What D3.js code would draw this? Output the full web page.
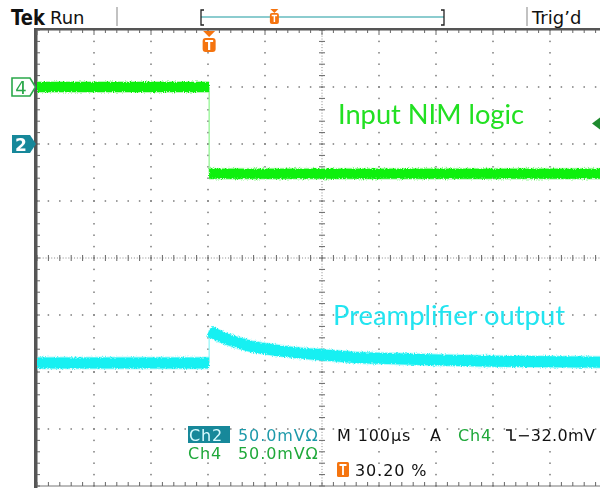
<!DOCTYPE html>
<html>
<head>
<meta charset="utf-8">
<script src="https://cdn.jsdelivr.net/npm/d3@7/dist/d3.min.js"></script>
<style>
  html, body { margin: 0; padding: 0; background: #fff; }
  svg { display: block; }
</style>
</head>
<body>
<svg id="scope" width="600" height="488"></svg>
<script>
// Acquisition settings
const timePerDiv = 100;          // µs / div
const triggerPosPct = 30.20;     // % of record before trigger
const ch2Scale = 50;             // mV / div
const ch4Scale = 50;             // mV / div
const ch2Offset = 2;             // ground marker, divisions above centre
const ch4Offset = 3;
const triggerLevel = -32;        // mV on Ch4, falling edge

// Ch4: NIM logic gate (µs, mV)
const ch4Time = [-302, 0, 0, 698];
const ch4Volt = [0, 0, -76, -76];

// Ch2: preamplifier pulse (µs, mV)
const ch2Time = [-302, 0, 0, 20, 42, 70, 104, 150, 198, 250, 300, 400, 500, 600, 698];
const ch2Volt = [-192, -192, -164, -169, -173, -177, -180, -183, -185, -187, -188, -189.5, -190.5, -191, -191.5];

// Annotations
const labelNIM = "Input NIM logic";
const labelPre = "Preamplifier output";

const svg = d3.select("#scope");

// Graticule: 10 x 8 divisions
const gx = d3.scaleLinear().domain([-5, 5]).range([37, 607]);
const gy = d3.scaleLinear().domain([4, -4]).range([30, 486]);
const t0 = -triggerPosPct / 100 * 10 * timePerDiv;
const xTime = d3.scaleLinear().domain([t0, t0 + 10 * timePerDiv]).range(gx.range());
const yCh = (scale, off) => v => gy(v / scale + off);
const y2 = yCh(ch2Scale, ch2Offset);
const y4 = yCh(ch4Scale, ch4Offset);

const grid = svg.append("g");
const dotColor = "#7a7a7a";
const minor = d3.range(-25, 26).map(i => i / 5);
const minorY = d3.range(-20, 21).map(i => i / 5);

// dotted major grid lines
[-4, -3, -2, -1, 1, 2, 3, 4].forEach(d => {
  grid.selectAll(null).data(minorY).join("rect")
    .attr("x", gx(d) - 0.75).attr("y", v => gy(v) - 0.75)
    .attr("width", 1.5).attr("height", 1.5).attr("fill", dotColor);
});
[-3, -2, -1, 1, 2, 3].forEach(d => {
  grid.selectAll(null).data(minor).join("rect")
    .attr("x", v => gx(v) - 0.75).attr("y", gy(d) - 0.75)
    .attr("width", 1.5).attr("height", 1.5).attr("fill", dotColor);
});
// centre axes
grid.append("line").attr("x1", gx(0)).attr("x2", gx(0)).attr("y1", gy(4)).attr("y2", gy(-4))
  .attr("stroke", "#888").attr("stroke-width", 1).attr("stroke-dasharray", "1,1.85");
grid.append("line").attr("y1", gy(0)).attr("y2", gy(0)).attr("x1", gx(-5)).attr("x2", gx(5))
  .attr("stroke", "#888").attr("stroke-width", 1).attr("stroke-dasharray", "1,1.85");
grid.selectAll(null).data(minorY).join("line")
  .attr("x1", gx(0) - 3).attr("x2", gx(0) + 3).attr("y1", v => gy(v)).attr("y2", v => gy(v))
  .attr("stroke", "#666").attr("stroke-width", 1);
grid.selectAll(null).data(minor).join("line")
  .attr("y1", gy(0) - 3).attr("y2", gy(0) + 3).attr("x1", v => gx(v)).attr("x2", v => gx(v))
  .attr("stroke", "#666").attr("stroke-width", 1);
// edge rulers
grid.append("rect").attr("x", gx(-5) - 3).attr("y", gy(4) - 2).attr("width", 3.5).attr("height", 460).attr("fill", "#555");
grid.append("rect").attr("x", gx(-5) - 3).attr("y", gy(4) - 2).attr("width", 580).attr("height", 2.5).attr("fill", "#555");
grid.append("line").attr("x1", gx(-5)).attr("x2", 600).attr("y1", gy(-4)).attr("y2", gy(-4)).attr("stroke", "#777").attr("stroke-width", 1);
grid.selectAll(null).data(minor).join("line")
  .attr("x1", v => gx(v)).attr("x2", v => gx(v)).attr("y1", gy(4)).attr("y2", v => gy(4) + (Number.isInteger(v) ? 5 : 3))
  .attr("stroke", "#666").attr("stroke-width", 1);
grid.selectAll(null).data(minor).join("line")
  .attr("x1", v => gx(v)).attr("x2", v => gx(v)).attr("y1", gy(-4)).attr("y2", gy(-4) - 4)
  .attr("stroke", "#666").attr("stroke-width", 1);
grid.selectAll(null).data(minorY).join("line")
  .attr("y1", v => gy(v)).attr("y2", v => gy(v)).attr("x1", gx(-5)).attr("x2", gx(-5) + 3)
  .attr("stroke", "#666").attr("stroke-width", 1);

// noise texture for the trace bands
const defs = svg.append("defs");
const f = defs.append("filter").attr("id", "grain").attr("x", "-5%").attr("y", "-20%").attr("width", "110%").attr("height", "140%");
f.append("feTurbulence").attr("type", "fractalNoise").attr("baseFrequency", "0.9 0.6").attr("numOctaves", 2).attr("seed", 3).attr("result", "n");
f.append("feDisplacementMap").attr("in", "SourceGraphic").attr("in2", "n").attr("scale", 3.5).attr("xChannelSelector", "R").attr("yChannelSelector", "G");
const clip = defs.append("clipPath").attr("id", "plot");
clip.append("rect").attr("x", gx(-5) + 0.5).attr("y", gy(4)).attr("width", 600).attr("height", 456);

// draw a trace: flat runs as a wide band, steps as a thin edge
function drawTrace(times, volts, yFn, color, edge, width) {
  const g = svg.append("g").attr("clip-path", "url(#plot)");
  const pts = times.map((t, i) => [xTime(t), yFn(volts[i])]);
  const runs = [];
  let cur = [pts[0]];
  for (let i = 1; i < pts.length; i++) {
    if (times[i] === times[i - 1]) {
      g.append("line").attr("x1", pts[i - 1][0]).attr("x2", pts[i][0])
        .attr("y1", pts[i - 1][1]).attr("y2", pts[i][1])
        .attr("stroke", edge).attr("stroke-width", 1.2);
      runs.push(cur); cur = [pts[i]];
    } else cur.push(pts[i]);
  }
  runs.push(cur);
  const line = d3.line().curve(d3.curveMonotoneX);
  const band = g.append("g").attr("filter", "url(#grain)");
  runs.forEach(r => {
    band.append("path").attr("d", line(r)).attr("fill", "none")
      .attr("stroke", edge).attr("stroke-width", width + 2).attr("opacity", 0.6);
    band.append("path").attr("d", line(r)).attr("fill", "none")
      .attr("stroke", color).attr("stroke-width", width);
  });
}
drawTrace(ch4Time, ch4Volt, y4, "#10f010", "#8af58a", 10);
drawTrace(ch2Time, ch2Volt, y2, "#14f0f2", "#8af6f8", 11);

// channel ground markers
const m4 = svg.append("g").attr("transform", `translate(0,${y4(0)})`);
m4.append("path").attr("d", "M12,-9 H30 L35.5,0 L30,9 H12 Z").attr("fill", "#fff").attr("stroke", "#2aa84a").attr("stroke-width", 1.6);
m4.append("text").attr("x", 21).attr("y", 6.5).attr("text-anchor", "middle").attr("font-family", "DejaVu Sans").attr("font-size", 18).attr("fill", "#2aa84a").text("4");
const m2 = svg.append("g").attr("transform", `translate(0,${y2(0)})`);
m2.append("path").attr("d", "M12,-9 H30 L36,0 L30,9 H12 Z").attr("fill", "#17889a");
m2.append("text").attr("x", 21).attr("y", 6.5).attr("text-anchor", "middle").attr("font-family", "DejaVu Sans").attr("font-weight", "bold").attr("font-size", 17).attr("fill", "#fff").text("2");

// trigger level marker on the right
svg.append("path").attr("d", `M592,${y4(triggerLevel)} L600,${y4(triggerLevel) - 6} L600,${y4(triggerLevel) + 6} Z`).attr("fill", "#1e8a2e");

// trigger position marker
const orange = "#f5740f";
const tx = xTime(0);
const tm = svg.append("g").attr("transform", `translate(${tx},0)`);
tm.append("path").attr("d", "M-6,31 H6 L0,37 Z").attr("fill", orange);
tm.append("rect").attr("x", -6.5).attr("y", 38).attr("width", 13).attr("height", 14).attr("rx", 3).attr("fill", orange);
tm.append("path").attr("d", "M-4,41 H4 M0,41 V50").attr("stroke", "#fff").attr("stroke-width", 2.2);

// top status bar
const fontUI = "DejaVu Sans";
svg.append("text").attr("x", 11).attr("y", 25).attr("font-family", fontUI).attr("font-weight", "bold").attr("font-size", 22)
  .attr("textLength", 34).attr("lengthAdjust", "spacingAndGlyphs").attr("fill", "#111").text("Tek");
svg.append("text").attr("x", 50).attr("y", 24).attr("font-family", fontUI).attr("font-size", 18).attr("fill", "#111").text("Run");
svg.append("line").attr("x1", 117).attr("x2", 117).attr("y1", 7).attr("y2", 26).attr("stroke", "#999").attr("stroke-width", 1.2);
svg.append("line").attr("x1", 527).attr("x2", 527).attr("y1", 7).attr("y2", 26).attr("stroke", "#999").attr("stroke-width", 1.2);
svg.append("text").attr("x", 532).attr("y", 24).attr("font-family", fontUI).attr("font-size", 18).attr("fill", "#111").text("Trig’d");
// record view bar
const rv = d3.scaleLinear().domain([0, 100]).range([201, 444]);
svg.append("line").attr("x1", rv(0)).attr("x2", rv(100)).attr("y1", 17).attr("y2", 17).attr("stroke", "#1a9aa0").attr("stroke-width", 1.2);
svg.append("path").attr("d", `M${rv(0) + 3},10 H${rv(0)} V25 H${rv(0) + 3}`).attr("fill", "none").attr("stroke", "#222").attr("stroke-width", 1.3);
svg.append("path").attr("d", `M${rv(100) - 3},10 H${rv(100)} V25 H${rv(100) - 3}`).attr("fill", "none").attr("stroke", "#222").attr("stroke-width", 1.3);
const rvx = rv(triggerPosPct);
const sm = svg.append("g").attr("transform", `translate(${rvx},0)`);
sm.append("path").attr("d", "M-4,9 H4 L0,13 Z").attr("fill", orange);
sm.append("rect").attr("x", -4.5).attr("y", 13).attr("width", 9).attr("height", 11).attr("rx", 2).attr("fill", orange);
sm.append("path").attr("d", "M-2.7,15.5 H2.7 M0,15.5 V22").attr("stroke", "#fff").attr("stroke-width", 1.5);

// trace annotations
const fontLabel = "Lato";
svg.append("text").attr("x", 338).attr("y", 124).attr("font-family", fontLabel).attr("font-size", 26)
  .attr("textLength", 186).attr("lengthAdjust", "spacingAndGlyphs").attr("fill", "#22e022").text(labelNIM);
svg.append("text").attr("x", 333).attr("y", 325).attr("font-family", fontLabel).attr("font-size", 26)
  .attr("textLength", 232).attr("lengthAdjust", "spacingAndGlyphs").attr("fill", "#22e4f0").text(labelPre);

// readout
const ro = svg.append("g").attr("font-family", fontUI).attr("font-size", 16).attr("letter-spacing", 0.9);
const teal = "#1d9aaa", green = "#1fa83a";
ro.append("rect").attr("x", 188).attr("y", 426).attr("width", 42).attr("height", 17).attr("fill", "#17889a");
ro.append("text").attr("x", 189).attr("y", 441).attr("fill", "#d8fbff").text("Ch2");
ro.append("text").attr("x", 238).attr("y", 441).attr("fill", teal).text(`${ch2Scale.toFixed(1)}mVΩ`);
ro.append("text").attr("x", 337).attr("y", 441).attr("fill", "#111").text(`M ${timePerDiv}µs`);
ro.append("text").attr("x", 430).attr("y", 441).attr("fill", "#111").text("A");
ro.append("text").attr("x", 458).attr("y", 441).attr("fill", green).text("Ch4");
ro.append("path").attr("d", "M506,430 H511 V440 H516").attr("fill", "none").attr("stroke", "#111").attr("stroke-width", 1.6);
ro.append("text").attr("x", 517).attr("y", 441).attr("fill", "#111").attr("letter-spacing", 0.4).text(`−${Math.abs(triggerLevel).toFixed(1)}mV`);
ro.append("text").attr("x", 188).attr("y", 459).attr("fill", green).text("Ch4");
ro.append("text").attr("x", 238).attr("y", 459).attr("fill", green).text(`${ch4Scale.toFixed(1)}mVΩ`);
ro.append("rect").attr("x", 337).attr("y", 462).attr("width", 12).attr("height", 15).attr("rx", 1.5).attr("fill", orange);
ro.append("path").attr("d", "M339.5,465 H346.5 M343,465 V475").attr("stroke", "#fff").attr("stroke-width", 1.8);
ro.append("text").attr("x", 355).attr("y", 476).attr("fill", "#111").text(`${triggerPosPct.toFixed(2)} %`);
</script>
</body>
</html>
